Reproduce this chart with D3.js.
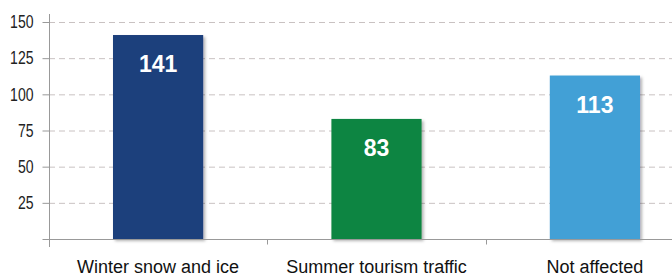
<!DOCTYPE html>
<html>
<head>
<meta charset="utf-8">
<script src="https://cdn.jsdelivr.net/npm/d3@7"></script>
<style>
  body { margin: 0; background: #fff; }
  svg { display: block; }
</style>
</head>
<body>
<div id="chart"></div>
<script>
var categories = ["Winter snow and ice", "Summer tourism traffic", "Not affected"];
var values = [141, 83, 113];
var colors = ["#1d3f7b", "#0e8543", "#42a0d6"];
var yTicks = [25, 50, 75, 100, 125, 150];

var W = 672, H = 275,
    x0 = 49, x1 = 704,
    yTop = 22, yBase = 239;

var svg = d3.select("#chart").append("svg")
    .attr("width", W)
    .attr("height", H);

var f = svg.append("defs").append("filter").attr("id", "shadow")
    .attr("x", "-10%").attr("y", "-10%").attr("width", "130%").attr("height", "130%");
f.append("feDropShadow").attr("dx", 2).attr("dy", 2).attr("stdDeviation", 1.5)
    .attr("flood-color", "#000").attr("flood-opacity", 0.3);

var x = d3.scaleBand().domain(categories).range([x0, x1]).paddingInner(0.587).paddingOuter(0.293);
var y = d3.scaleLinear().domain([0, 150]).range([yBase, yTop]);

// gridlines
svg.append("g").selectAll("line")
    .data(yTicks)
    .enter().append("line")
    .attr("x1", x0).attr("x2", W)
    .attr("y1", function(d) { return y(d) + 0.5; })
    .attr("y2", function(d) { return y(d) + 0.5; })
    .attr("stroke", "#c9c2c2")
    .attr("stroke-dasharray", "6,4");

// bars
var bar = svg.append("g").selectAll("g")
    .data(values)
    .enter().append("g");

bar.append("rect")
    .attr("x", function(d, i) { return x(categories[i]); })
    .attr("y", function(d) { return y(d); })
    .attr("width", x.bandwidth())
    .attr("height", function(d) { return yBase - y(d); })
    .attr("fill", function(d, i) { return colors[i]; })
    .attr("filter", "url(#shadow)");

bar.append("text")
    .attr("x", function(d, i) { return x(categories[i]) + x.bandwidth() / 2; })
    .attr("y", function(d) { return y(d) + 37; })
    .attr("text-anchor", "middle")
    .attr("fill", "#fff")
    .attr("font-family", "Liberation Sans, Arial, sans-serif")
    .attr("font-weight", "bold")
    .attr("font-size", "23px")
    .text(function(d) { return d; });

// y axis
var yAxis = svg.append("g")
    .attr("transform", "translate(" + (x0 + 0.5) + ",0)")
    .call(d3.axisLeft(y).tickValues([0].concat(yTicks)).tickSize(7)
        .tickFormat(function(d) { return d === 0 ? "" : d; }));
yAxis.select(".domain").attr("d", "M0," + (yTop - 8) + "V" + (yBase + 8)).attr("stroke", "#999");
yAxis.selectAll(".tick line").attr("stroke", "#999");
yAxis.selectAll(".tick text")
    .attr("x", 0)
    .attr("transform", "translate(-16,0) scale(0.78,1)")
    .attr("fill", "#222")
    .attr("font-family", "Liberation Sans, Arial, sans-serif")
    .attr("font-size", "18px");

// x axis
var xAxis = svg.append("g")
    .attr("transform", "translate(0," + (yBase + 0.5) + ")");
xAxis.append("line")
    .attr("x1", x0 - 6).attr("x2", W)
    .attr("stroke", "#999");
xAxis.selectAll(".sep")
    .data(categories.slice(1))
    .enter().append("line")
    .attr("class", "sep")
    .attr("x1", function(d) { return Math.round(x(d) - x.step() * x.paddingInner() / 2) + 0.5; })
    .attr("x2", function(d) { return Math.round(x(d) - x.step() * x.paddingInner() / 2) + 0.5; })
    .attr("y1", 0).attr("y2", 5)
    .attr("stroke", "#999");
xAxis.selectAll(".lab")
    .data(categories)
    .enter().append("text")
    .attr("x", function(d) { return x(d) + x.bandwidth() / 2; })
    .attr("y", 33)
    .attr("text-anchor", "middle")
    .attr("fill", "#111")
    .attr("font-family", "Liberation Sans, Arial, sans-serif")
    .attr("font-size", "18px")
    .text(function(d) { return d; });
</script>
</body>
</html>
